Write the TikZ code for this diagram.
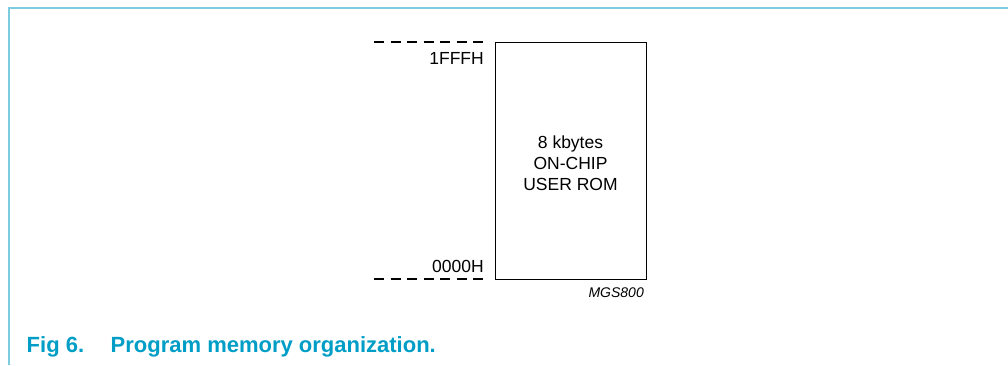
\documentclass[tikz,border=0pt]{standalone}
\usepackage{fontspec}
\setmainfont{Liberation Sans}
\definecolor{framecol}{RGB}{125,203,222}
\definecolor{capcol}{RGB}{0,158,198}
\begin{document}
\begin{tikzpicture}[x=1pt,y=-1pt,
  lbl/.style={inner sep=0pt,font=\fontsize{17.5}{21}\selectfont},
  dashline/.style={line width=1.4pt,dash pattern=on 10pt off 6.5pt},
  frameline/.style={draw=framecol,line width=1.5pt}]
\useasboundingbox (0,0) rectangle (1008,365);
% frame
\draw[frameline] (9,365) -- (9,8) -- (1008,8);
% memory box
\node[draw,line width=1.4pt,minimum width=151pt,minimum height=237pt,inner sep=0pt,anchor=north west] (rom) at (495,42) {};
\node[lbl,align=center,anchor=base] (romtxt) at (570.5,190) {8 kbytes\\ON-CHIP\\USER ROM};
% dashed address markers
\coordinate (ttl) at (374,42);
\coordinate (ttr) at (485,42);
\coordinate (btl) at (374,279);
\coordinate (btr) at (485,279);
\draw[dashline] (ttl) -- (ttr);
\draw[dashline] (btl) -- (btr);
\node[lbl,anchor=base east] (top) at (484,64) {1FFFH};
\node[lbl,anchor=base east] (bot) at (484,272) {0000H};
\node[inner sep=0pt,anchor=base east,font=\fontsize{14}{16}\selectfont\itshape] (code) at (644,297) {MGS800};
% caption
\node[inner sep=0pt,anchor=base west,text=capcol,font=\fontsize{22}{26}\selectfont\bfseries] (fig) at (26.5,352.5) {Fig 6.};
\node[inner sep=0pt,anchor=base west,text=capcol,font=\fontsize{22}{26}\selectfont\bfseries] (title) at (110.5,352.5) {Program memory organization.};
\end{tikzpicture}
\end{document}
